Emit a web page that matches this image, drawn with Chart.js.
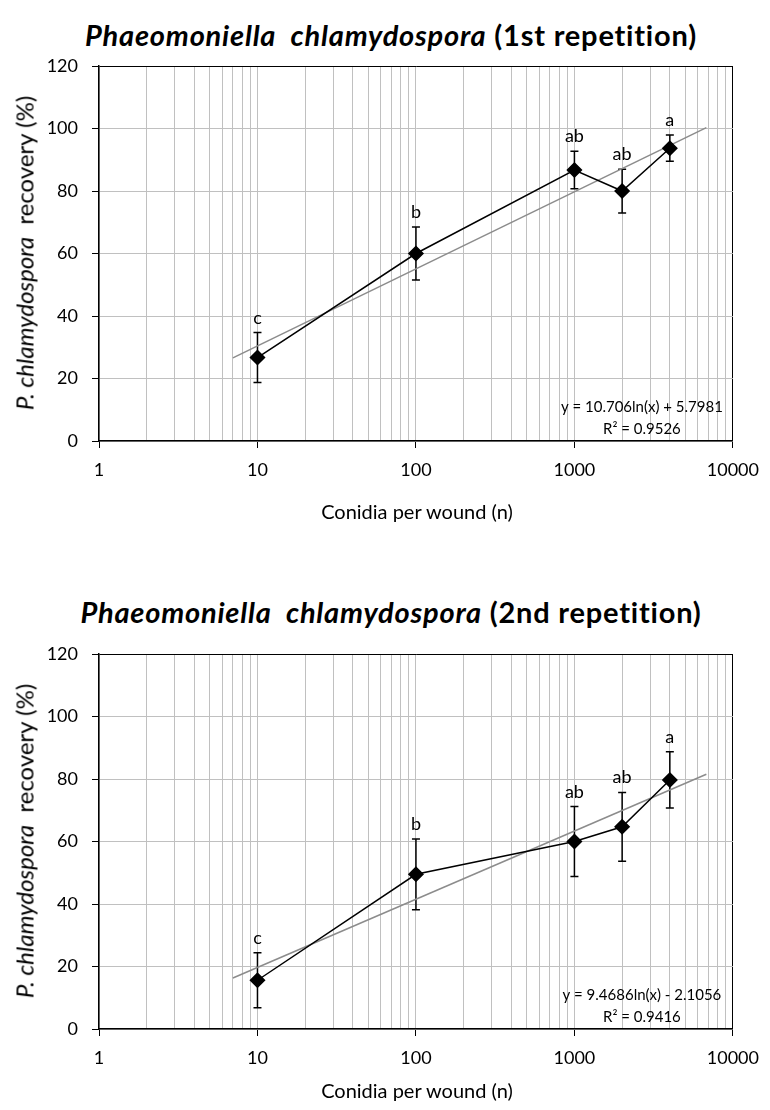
<!DOCTYPE html>
<html>
<head>
<meta charset="utf-8">
<script src="https://cdn.jsdelivr.net/npm/chart.js@4.4.1/dist/chart.umd.min.js"></script>
<style>
  body { margin: 0; background: #fff; }
  #page { position: relative; width: 770px; height: 1110px; overflow: hidden; font-family: Lato, sans-serif; color: #000; }
  canvas { position: absolute; left: 0; }
  .title { position: absolute; left: 391px; transform: translate(-50%, -50%); font-weight: bold; font-size: 29px; letter-spacing: 0.8px; white-space: nowrap; }
  .ytitle { position: absolute; left: 24px; transform: translate(-50%, -50%) rotate(-90deg); font-size: 24px; white-space: nowrap; }
  .xtitle { position: absolute; left: 417px; transform: translate(-50%, -50%); font-size: 20px; white-space: nowrap; }
</style>
</head>
<body>
<div id="page">
  <div class="title" style="top:34px"><i>Phaeomoniella&nbsp; chlamydospora</i> (1st repetition)</div>
  <canvas id="c1" width="770" height="560" style="top:0"></canvas>
  <div class="ytitle" style="top:253px"><i>P. chlamydospora</i>&nbsp; recovery (%)</div>
  <div class="xtitle" style="top:511px">Conidia per wound (n)</div>

  <div class="title" style="top:611px"><i>Phaeomoniella&nbsp; chlamydospora</i> (2nd repetition)</div>
  <canvas id="c2" width="770" height="522" style="top:588px"></canvas>
  <div class="ytitle" style="top:841px"><i>P. chlamydospora</i>&nbsp; recovery (%)</div>
  <div class="xtitle" style="top:1090px">Conidia per wound (n)</div>
</div>
<script>
// data
const conidia = [10, 100, 1000, 2000, 4000];
const rec1 = [26.7, 60, 86.7, 80, 93.7];
const err1 = [8, 8.5, 6, 7, 4.2];
const rec2 = [15.6, 49.5, 60, 64.7, 79.7];
const err2 = [8.8, 11.3, 11.2, 11, 9];
const letters1 = ['c', 'b', 'ab', 'ab', 'a'];
const letters2 = ['c', 'b', 'ab', 'ab', 'a'];

// log trendline ends
const trendX = [7, 6800];
const trend1 = [26.6, 100.3];
const trend2 = [16.3, 81.5];
const eq1 = ['y = 10.706ln(x) + 5.7981', 'R\u00b2 = 0.9526'];
const eq2 = ['y = 9.4686ln(x) - 2.1056', 'R\u00b2 = 0.9416'];

const xLabels = [1, 10, 100, 1000, 10000];
let xGrid = [];
for (let d of xLabels) {
  if (d === 10000) { xGrid.push(d); break; }
  for (let k = 1; k < 10; k++) xGrid.push(d * k);
}

const FONT = 'Lato, sans-serif';
const GRID = '#c0c0c0';

const errorBars = {
  id: 'errorBars',
  beforeDatasetsDraw(chart, args, opts) {
    const ctx = chart.ctx;
    const xs = chart.scales.x, ys = chart.scales.y;
    ctx.save();
    ctx.strokeStyle = '#000';
    ctx.lineWidth = 1.5;
    for (let i = 0; i < conidia.length; i++) {
      let px = xs.getPixelForValue(conidia[i]);
      let top = ys.getPixelForValue(opts.values[i] + opts.errors[i]);
      let bot = ys.getPixelForValue(opts.values[i] - opts.errors[i]);
      ctx.beginPath();
      ctx.moveTo(px, top); ctx.lineTo(px, bot);
      ctx.moveTo(px - 4, top); ctx.lineTo(px + 4, top);
      ctx.moveTo(px - 4, bot); ctx.lineTo(px + 4, bot);
      ctx.stroke();
    }
    ctx.restore();
  },
  afterDatasetsDraw(chart, args, opts) {
    const ctx = chart.ctx;
    const xs = chart.scales.x, ys = chart.scales.y;
    const area = chart.chartArea;
    ctx.save();
    ctx.fillStyle = '#000';
    ctx.textAlign = 'center';
    ctx.textBaseline = 'alphabetic';
    ctx.font = '18px ' + FONT;
    for (let i = 0; i < conidia.length; i++) {
      let px = xs.getPixelForValue(conidia[i]);
      let top = ys.getPixelForValue(opts.values[i] + opts.errors[i]);
      ctx.fillText(opts.letters[i], px, top - 9);
    }
    ctx.font = '15px ' + FONT;
    ctx.fillText(opts.equation[0], area.right - 91, area.bottom - 29);
    ctx.fillText(opts.equation[1], area.right - 91, area.bottom - 7);
    ctx.restore();
  }
};

function makeChart(id, values, errors, letters, trendY, equation, bottomPad) {
  let pts = conidia.map((c, i) => ({ x: c, y: values[i] }));
  let trend = trendX.map((t, i) => ({ x: t, y: trendY[i] }));
  return new Chart(document.getElementById(id), {
    type: 'scatter',
    data: {
      datasets: [{
        data: pts,
        showLine: true,
        borderColor: '#000',
        borderWidth: 1.5,
        backgroundColor: '#000',
        pointStyle: 'rectRot',
        pointRadius: 7,
        order: 0
      }, {
        data: trend,
        showLine: true,
        borderColor: '#8c8c8c',
        borderWidth: 1.5,
        pointRadius: 0,
        order: 1
      }]
    },
    options: {
      responsive: false,
      animation: false,
      layout: { padding: { top: 66, left: 0, right: 34, bottom: bottomPad } },
      plugins: {
        legend: { display: false },
        tooltip: { enabled: false },
        errorBars: { values: values, errors: errors, letters: letters, equation: equation }
      },
      scales: {
        x: {
          type: 'logarithmic',
          min: 1,
          max: 10000,
          afterBuildTicks: s => { s.ticks = xGrid.map(v => ({ value: v, major: xLabels.includes(v) })); },
          afterFit: s => { s.height = 50; },
          ticks: {
            autoSkip: false,
            maxRotation: 0,
            color: '#000',
            padding: 11,
            font: { family: FONT, size: 18 },
            callback: v => xLabels.includes(v) ? String(v) : ''
          },
          grid: {
            color: c => (c.tick && c.tick.value === 10000) ? '#000' : GRID,
            tickColor: c => (c.tick && xLabels.includes(c.tick.value)) ? '#000' : 'rgba(0,0,0,0)',
            tickLength: 7
          },
          border: { color: '#000', width: 1.5 }
        },
        y: {
          min: 0,
          max: 120,
          afterFit: s => { s.width = 99; },
          ticks: {
            stepSize: 20,
            color: '#000',
            padding: 14,
            font: { family: FONT, size: 18 }
          },
          grid: {
            color: c => (c.tick && c.tick.value === 120) ? '#000' : GRID,
            tickColor: '#000',
            tickLength: 7
          },
          border: { color: '#000', width: 1.5 }
        }
      }
    },
    plugins: [errorBars]
  });
}

makeChart('c1', rec1, err1, letters1, trend1, eq1, 69);
makeChart('c2', rec2, err2, letters2, trend2, eq2, 31);
</script>
</body>
</html>
